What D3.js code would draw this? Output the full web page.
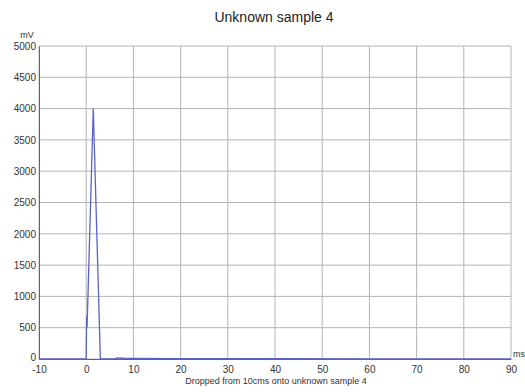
<!DOCTYPE html>
<html><head><meta charset="utf-8">
<script src="https://cdn.jsdelivr.net/npm/d3@7"></script>
<style>body{margin:0;background:#fff;}svg{display:block;font-family:"Liberation Sans",Arial,sans-serif;}</style>
</head><body>
<script>
const timeMs = [-10, -5, 0, 0.05, 0.1, 0.18, 1.5, 3.0, 5, 6, 6.5, 8, 10, 20, 40, 60, 90];
const voltageMv = [0, 0, 0, 400, 680, 500, 4000, 0, 0, 0, 18, 12, 10, 6, 4, 2, 0];
const xTicks = [-10, 0, 10, 20, 30, 40, 50, 60, 70, 80, 90];
const yTicks = [0, 500, 1000, 1500, 2000, 2500, 3000, 3500, 4000, 4500, 5000];
const title = "Unknown sample 4";
const xLabel = "Dropped from 10cms onto unknown sample 4";

const W = 525, H = 392;
const m = {l: 39, r: 14, t: 46, b: 33};
const svg = d3.select("body").append("svg").attr("width", W).attr("height", H);
const x = d3.scaleLinear().domain([-10, 90]).range([m.l, W - m.r]);
const y = d3.scaleLinear().domain([0, 5000]).range([H - m.b, m.t]);

// grid
svg.append("g").selectAll("line").data(xTicks).join("line")
  .attr("x1", d => x(d)).attr("x2", d => x(d)).attr("y1", y(0)).attr("y2", y(5000))
  .attr("stroke", "#b4b4b4").attr("stroke-width", 1);
svg.append("g").selectAll("line").data(yTicks).join("line")
  .attr("x1", x(-10)).attr("x2", x(90)).attr("y1", d => y(d)).attr("y2", d => y(d))
  .attr("stroke", "#b4b4b4").attr("stroke-width", 1);

// axes
const fmt = d => String(d);
const xAxis = svg.append("g").attr("transform", `translate(0,${y(0)})`)
  .call(d3.axisBottom(x).tickValues(xTicks).tickFormat(fmt).tickSize(0).tickPadding(7));
const yAxis = svg.append("g").attr("transform", `translate(${x(-10)},0)`)
  .call(d3.axisLeft(y).tickValues(yTicks).tickFormat(fmt).tickSize(0).tickPadding(3));
[xAxis, yAxis].forEach(a => {
  a.select(".domain").attr("stroke", "#666");
  a.selectAll("text").attr("font-size", 10).attr("fill", "#333")
    .attr("font-family", "'Liberation Sans',Arial,sans-serif");
});
yAxis.selectAll(".tick text").filter(d => d === 0).attr("dy", "0.1em");

// line
svg.append("path").datum(timeMs.map((t, i) => [t, voltageMv[i]]))
  .attr("fill", "none").attr("stroke", "#5a64c8").attr("stroke-width", 1.3)
  .attr("d", d3.line().x(d => x(d[0])).y(d => y(d[1])));

// texts
svg.append("text").attr("x", 274).attr("y", 22).attr("text-anchor", "middle")
  .attr("font-size", 14).attr("fill", "#222").text(title);
svg.append("text").attr("x", 27).attr("y", 38).attr("text-anchor", "middle")
  .attr("font-size", 9).attr("fill", "#333").text("mV");
svg.append("text").attr("x", 513).attr("y", 357)
  .attr("font-size", 9).attr("fill", "#333").text("ms");
svg.append("text").attr("x", 276).attr("y", 384).attr("text-anchor", "middle")
  .attr("font-size", 9).attr("fill", "#333").text(xLabel);
</script>
</body></html>
